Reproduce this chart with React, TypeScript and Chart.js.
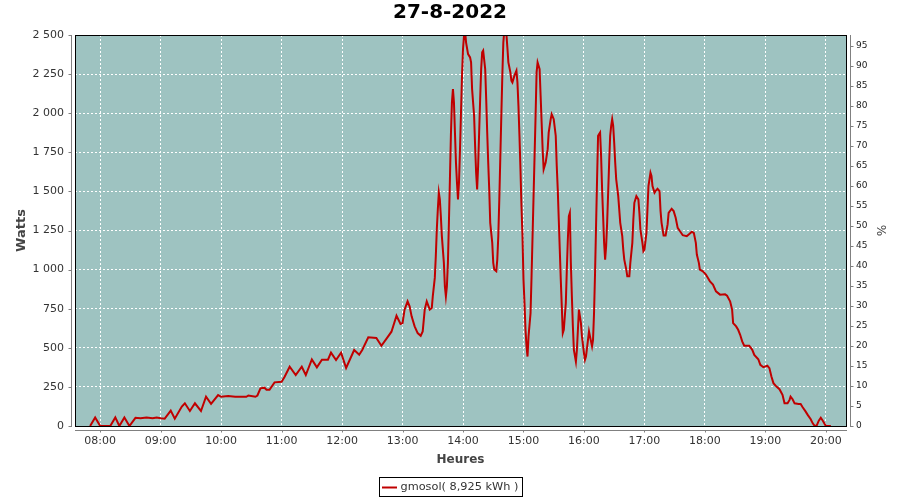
import React, { useEffect, useRef } from 'react';
import { Chart, registerables } from 'chart.js';

Chart.register(...registerables);

const TITLE = '27-8-2022';
const SERIES_LABEL = 'gmosol( 8,925 kWh )';
const X_TITLE = 'Heures';
const Y_TITLE = 'Watts';
const Y2_TITLE = '%';

const times = [
  '07:50', '07:55', '08:00', '08:10', '08:15', '08:19', '08:24', '08:29', '08:35', '08:40',
  '08:46', '08:52', '08:56', '09:00', '09:04', '09:10', '09:14', '09:21', '09:24', '09:29',
  '09:34', '09:40', '09:45', '09:50', '09:57', '10:00', '10:07', '10:14', '10:25', '10:27',
  '10:34', '10:36', '10:39', '10:43', '10:45', '10:48', '10:53', '11:00', '11:03', '11:08',
  '11:14', '11:20', '11:24', '11:30', '11:35', '11:40', '11:46', '11:49', '11:54', '11:59',
  '12:04', '12:12', '12:17', '12:20', '12:26', '12:34', '12:39', '12:45', '12:49', '12:54',
  '12:58', '13:00', '13:02', '13:05', '13:07', '13:09', '13:12', '13:15', '13:18', '13:20',
  '13:22', '13:24', '13:27', '13:29', '13:30', '13:32', '13:33', '13:34', '13:35', '13:36',
  '13:37', '13:38', '13:39', '13:41', '13:42', '13:43', '13:44', '13:45', '13:46', '13:47',
  '13:48', '13:49', '13:50', '13:51', '13:52', '13:53', '13:54', '13:55', '13:56', '13:57',
  '13:58', '13:59', '14:00', '14:01', '14:02', '14:03', '14:05', '14:07', '14:08', '14:09',
  '14:11', '14:12', '14:13', '14:14', '14:15', '14:16', '14:17', '14:18', '14:19', '14:20',
  '14:22', '14:23', '14:24', '14:25', '14:26', '14:27', '14:29', '14:30', '14:31', '14:33',
  '14:34', '14:35', '14:36', '14:37', '14:38', '14:39', '14:40', '14:41', '14:43', '14:44',
  '14:45', '14:47', '14:48', '14:49', '14:51', '14:53', '14:54', '14:55', '14:56', '14:57',
  '14:58', '14:59', '15:00', '15:01', '15:02', '15:03', '15:04', '15:05', '15:07', '15:08',
  '15:09', '15:10', '15:11', '15:12', '15:13', '15:14', '15:16', '15:17', '15:18', '15:19',
  '15:20', '15:22', '15:24', '15:25', '15:27', '15:28', '15:30', '15:32', '15:33', '15:34',
  '15:35', '15:36', '15:37', '15:38', '15:39', '15:40', '15:42', '15:43', '15:44', '15:45',
  '15:46', '15:47', '15:48', '15:49', '15:50', '15:52', '15:53', '15:54', '15:55', '15:56',
  '15:57', '15:58', '16:00', '16:01', '16:02', '16:04', '16:05', '16:06', '16:08', '16:09',
  '16:10', '16:11', '16:12', '16:13', '16:14', '16:16', '16:17', '16:18', '16:19', '16:20',
  '16:21', '16:22', '16:23', '16:24', '16:25', '16:26', '16:27', '16:28', '16:29', '16:30',
  '16:31', '16:32', '16:34', '16:35', '16:36', '16:38', '16:39', '16:40', '16:42', '16:43',
  '16:45', '16:46', '16:48', '16:49', '16:50', '16:52', '16:54', '16:55', '16:56', '16:58',
  '16:59', '17:00', '17:02', '17:03', '17:04', '17:06', '17:07', '17:08', '17:10', '17:11',
  '17:13', '17:15', '17:16', '17:17', '17:19', '17:21', '17:23', '17:24', '17:27', '17:29',
  '17:31', '17:33', '17:36', '17:38', '17:42', '17:44', '17:47', '17:49', '17:51', '17:52',
  '17:54', '17:55', '17:58', '18:01', '18:05', '18:08', '18:11', '18:15', '18:20', '18:22',
  '18:25', '18:27', '18:28', '18:31', '18:33', '18:35', '18:37', '18:39', '18:44', '18:47',
  '18:49', '18:53', '18:55', '18:58', '19:02', '19:04', '19:06', '19:08', '19:11', '19:14',
  '19:17', '19:19', '19:22', '19:24', '19:25', '19:27', '19:29', '19:33', '19:35', '19:37',
  '19:40', '19:42', '19:45', '19:47', '19:49', '19:51', '19:53', '19:55', '19:57', '20:00',
  '20:05',
];

const watts = [
  0, 55, 0, 0, 55, 0, 55, 0, 52, 50,
  55, 50, 55, 50, 47, 98, 47, 124, 145, 96,
  145, 96, 187, 141, 198, 187, 192, 187, 187, 195,
  187, 195, 241, 245, 232, 232, 279, 283, 315, 379,
  326, 379, 326, 426, 375, 424, 424, 469, 422, 469,
  371, 486, 456, 486, 567, 563, 513, 567, 603, 705,
  652, 658, 744, 797, 765, 701, 637, 594, 577, 605,
  744, 797, 744, 754, 829, 947, 1086, 1257, 1385, 1492,
  1449, 1342, 1214, 1043, 893, 829, 893, 1043, 1299, 1577,
  1866, 2069, 2154, 2069, 1876, 1684, 1556, 1449, 1556, 1769,
  2004, 2240, 2411, 2496, 2530, 2453, 2378, 2357, 2325, 2154,
  1983, 1791, 1620, 1513, 1663, 1876, 2090, 2282, 2389, 2400,
  2282, 2090, 1876, 1684, 1513, 1299, 1171, 1043, 1000, 989,
  1064, 1214, 1449, 1716, 1983, 2240, 2453, 2530, 2510, 2421,
  2325, 2261, 2208, 2197, 2240, 2272, 2197, 2047, 1855, 1641,
  1406, 1214, 936, 786, 615, 509, 444, 573, 722, 957,
  1214, 1470, 1727, 1983, 2261, 2325, 2282, 2111, 1940, 1770,
  1641, 1684, 1770, 1876, 1962, 1994, 1962, 1855, 1663, 1513,
  1320, 1128, 936, 765, 594, 615, 786, 1000, 1193, 1342,
  1363, 1043, 829, 637, 487, 412, 487, 615, 744, 701,
  658, 573, 466, 423, 444, 551, 605, 573, 509, 551,
  722, 978, 1278, 1577, 1855, 1876, 1727, 1513, 1342, 1171,
  1064, 1150, 1299, 1492, 1684, 1855, 1919, 1962, 1919, 1812,
  1684, 1577, 1470, 1385, 1299, 1214, 1128, 1064, 1000, 957,
  957, 1043, 1171, 1320, 1427, 1470, 1449, 1363, 1257, 1171,
  1118, 1128, 1235, 1385, 1534, 1620, 1599, 1534, 1492, 1502,
  1517, 1502, 1374, 1299, 1218, 1218, 1289, 1363, 1389, 1374,
  1331, 1267, 1239, 1220, 1214, 1225, 1242, 1235, 1171, 1096,
  1043, 1000, 989, 968, 925, 904, 861, 840, 842, 833,
  797, 744, 658, 637, 615, 583, 541, 513, 513, 487,
  455, 427, 391, 376, 385, 370, 316, 274, 252, 235,
  199, 145, 145, 167, 188, 171, 145, 141, 141, 120,
  92, 71, 43, 17, 0, 4, 34, 53, 34, 0,
  0,
];

const hourTicks = ['08:00', '09:00', '10:00', '11:00', '12:00', '13:00', '14:00', '15:00', '16:00', '17:00', '18:00', '19:00', '20:00'];
const xRange = ['07:35', '20:20'];
const wattRange = [0, 2500];
const wattStep = 250;
const percentTicks = [0, 5, 10, 15, 20, 25, 30, 35, 40, 45, 50, 55, 60, 65, 70, 75, 80, 85, 90, 95];
const percentRange = [0, 97.75];

const PLOT_BG = '#9ec3c1';
const LINE_COLOR = '#c00000';
const AXIS_GRAY = '#808080';
const TEXT_COLOR = '#333333';
const FONT = 'DejaVu Sans';

function toMin(s: string): number {
  const [h, m] = s.split(':').map(Number);
  return h * 60 + m;
}

function fmtTime(v: number): string {
  const h = Math.floor(v / 60);
  const m = Math.round(v - h * 60);
  return String(h).padStart(2, '0') + ':' + String(m).padStart(2, '0');
}

function fmtWatts(v: number): string {
  if (v >= 1000) {
    const th = Math.floor(v / 1000);
    const rest = Math.round(v - th * 1000);
    return th + ' ' + String(rest).padStart(3, '0');
  }
  return String(v);
}

const framePlugin = {
  id: 'frame',
  beforeDraw(chart: any) {
    const { ctx, chartArea: a } = chart;
    ctx.save();
    ctx.fillStyle = PLOT_BG;
    ctx.fillRect(a.left, a.top, a.right - a.left, a.bottom - a.top);
    ctx.restore();
  },
  afterDraw(chart: any) {
    const { ctx, chartArea: a, scales } = chart;
    ctx.save();
    ctx.lineWidth = 1;
    // plot border
    ctx.strokeStyle = '#000';
    ctx.strokeRect(a.left + 0.5, a.top + 0.5, a.right - a.left, a.bottom - a.top);

    // offset axis lines
    ctx.strokeStyle = AXIS_GRAY;
    ctx.beginPath();
    const lx = a.left - 3.5;
    ctx.moveTo(lx, a.top);
    ctx.lineTo(lx, a.bottom + 1);
    for (const t of scales.y.ticks) {
      const py = Math.round(scales.y.getPixelForValue(t.value)) + 0.5;
      ctx.moveTo(lx - 3, py);
      ctx.lineTo(lx, py);
    }
    const rx = a.right + 4.5;
    ctx.moveTo(rx, a.top);
    ctx.lineTo(rx, a.bottom + 1);
    for (const t of scales.y2.ticks) {
      const py = Math.round(scales.y2.getPixelForValue(t.value)) + 0.5;
      ctx.moveTo(rx, py);
      ctx.lineTo(rx + 3, py);
    }
    const by = a.bottom + 4.5;
    ctx.moveTo(a.left, by);
    ctx.lineTo(a.right + 1, by);
    for (const t of scales.x.ticks) {
      const px = Math.round(scales.x.getPixelForValue(t.value)) + 0.5;
      ctx.moveTo(px, by);
      ctx.lineTo(px, by + 2);
    }
    ctx.stroke();

    // legend box (centred on the canvas)
    const ds = chart.data.datasets[0];
    ctx.font = '11.3px "' + FONT + '"';
    const tw = ctx.measureText(ds.label).width;
    const boxW = Math.round(tw + 25);
    const boxX = Math.round(chart.width / 2 - boxW / 2) + 0.5;
    const boxY = 477.5;
    ctx.strokeStyle = '#000';
    ctx.strokeRect(boxX, boxY, boxW, 19);
    ctx.strokeStyle = ds.borderColor;
    ctx.lineWidth = 2;
    ctx.beginPath();
    ctx.moveTo(boxX + 2.5, boxY + 10);
    ctx.lineTo(boxX + 17.5, boxY + 10);
    ctx.stroke();
    ctx.fillStyle = TEXT_COLOR;
    ctx.textBaseline = 'middle';
    ctx.textAlign = 'left';
    ctx.fillText(ds.label, boxX + 21, boxY + 10);
    ctx.restore();
  },
};

export default function App() {
  const ref = useRef<HTMLCanvasElement | null>(null);

  useEffect(() => {
    if (!ref.current) return;
    Chart.defaults.font.family = FONT;
    const points = times.map((t, i) => ({ x: toMin(t), y: watts[i] }));
    const chart = new Chart(ref.current, {
      type: 'line',
      data: {
        datasets: [
          {
            label: SERIES_LABEL,
            data: points,
            borderColor: LINE_COLOR,
            backgroundColor: LINE_COLOR,
            borderWidth: 2,
            pointRadius: 0,
            tension: 0,
            fill: false,
            yAxisID: 'y',
          },
        ],
      },
      plugins: [framePlugin],
      options: {
        responsive: false,
        animation: false,
        devicePixelRatio: 1,
        parsing: false,
        layout: { padding: { top: 0, left: 0, right: 0, bottom: 28 } },
        plugins: {
          legend: { display: false },
          tooltip: { enabled: false },
          title: {
            display: true,
            text: TITLE,
            color: '#000',
            font: { family: FONT, size: 20, weight: 'bold' },
            padding: { top: 1, bottom: 10 },
          },
        },
        scales: {
          x: {
            type: 'linear',
            position: 'bottom',
            min: toMin(xRange[0]),
            max: toMin(xRange[1]),
            afterBuildTicks: (axis: any) => {
              axis.ticks = hourTicks.map((t) => ({ value: toMin(t) }));
            },
            afterFit: (axis: any) => {
              axis.height = 46;
            },
            ticks: {
              autoSkip: false,
              maxRotation: 0,
              padding: 9,
              color: TEXT_COLOR,
              font: { family: FONT, size: 11 },
              callback: (v: any) => fmtTime(Number(v)),
            },
            grid: { color: '#ffffff', lineWidth: 1, drawTicks: false },
            border: { display: false, dash: [2, 2] },
            title: {
              display: true,
              text: X_TITLE,
              color: '#444444',
              font: { family: FONT, size: 12, weight: 'bold' },
              padding: { top: 0, bottom: 5 },
            },
          },
          y: {
            type: 'linear',
            position: 'left',
            min: wattRange[0],
            max: wattRange[1],
            afterFit: (axis: any) => {
              axis.width = 75;
            },
            ticks: {
              stepSize: wattStep,
              padding: 11,
              color: TEXT_COLOR,
              font: { family: FONT, size: 11 },
              callback: (v: any) => fmtWatts(Number(v)),
            },
            grid: { color: '#ffffff', lineWidth: 1, drawTicks: false },
            border: { display: false, dash: [2, 2] },
            title: {
              display: true,
              text: Y_TITLE,
              color: '#444444',
              font: { family: FONT, size: 13, weight: 'bold' },
              padding: { top: 14.2, bottom: 0 },
            },
          },
          y2: {
            type: 'linear',
            position: 'right',
            min: percentRange[0],
            max: percentRange[1],
            afterBuildTicks: (axis: any) => {
              axis.ticks = percentTicks.map((v) => ({ value: v }));
            },
            afterFit: (axis: any) => {
              axis.width = 54;
            },
            ticks: {
              autoSkip: false,
              padding: 10,
              color: '#222222',
              font: { family: FONT, size: 9 },
            },
            grid: { display: false, drawTicks: false },
            border: { display: false },
            title: {
              display: true,
              text: Y2_TITLE,
              color: '#444444',
              font: { family: FONT, size: 12 },
              padding: { top: 12.8, bottom: 0 },
            },
          },
        },
      },
    } as any);
    return () => chart.destroy();
  }, []);

  return (
    <div style={{ position: 'fixed', left: 0, top: 0, width: 900, height: 500, background: '#ffffff' }}>
      <canvas ref={ref} width={900} height={500} style={{ display: 'block' }} />
    </div>
  );
}
